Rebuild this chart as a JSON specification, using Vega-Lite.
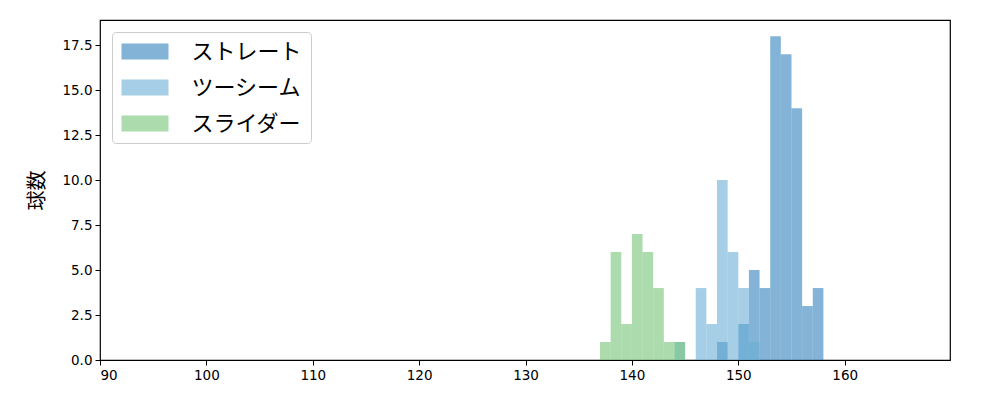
{
  "$schema": "https://vega.github.io/schema/vega-lite/v6.json",
  "width": 850,
  "height": 340,
  "autosize": {"type": "none"},
  "padding": {"left": 100, "top": 20, "right": 50, "bottom": 40},
  "background": "white",
  "config": {
    "view": {"stroke": "black", "strokeWidth": 1.2},
    "font": "DejaVu Sans"
  },
  "data": {
    "values": [
      {"球種": "ストレート", "lo": 148, "hi": 149, "count": 1},
      {"球種": "ストレート", "lo": 150, "hi": 151, "count": 2},
      {"球種": "ストレート", "lo": 151, "hi": 152, "count": 5},
      {"球種": "ストレート", "lo": 152, "hi": 153, "count": 4},
      {"球種": "ストレート", "lo": 153, "hi": 154, "count": 18},
      {"球種": "ストレート", "lo": 154, "hi": 155, "count": 17},
      {"球種": "ストレート", "lo": 155, "hi": 156, "count": 14},
      {"球種": "ストレート", "lo": 156, "hi": 157, "count": 3},
      {"球種": "ストレート", "lo": 157, "hi": 158, "count": 4},
      {"球種": "ツーシーム", "lo": 144, "hi": 145, "count": 1},
      {"球種": "ツーシーム", "lo": 146, "hi": 147, "count": 4},
      {"球種": "ツーシーム", "lo": 147, "hi": 148, "count": 2},
      {"球種": "ツーシーム", "lo": 148, "hi": 149, "count": 10},
      {"球種": "ツーシーム", "lo": 149, "hi": 150, "count": 6},
      {"球種": "ツーシーム", "lo": 150, "hi": 151, "count": 4},
      {"球種": "ツーシーム", "lo": 151, "hi": 152, "count": 1},
      {"球種": "スライダー", "lo": 137, "hi": 138, "count": 1},
      {"球種": "スライダー", "lo": 138, "hi": 139, "count": 6},
      {"球種": "スライダー", "lo": 139, "hi": 140, "count": 2},
      {"球種": "スライダー", "lo": 140, "hi": 141, "count": 7},
      {"球種": "スライダー", "lo": 141, "hi": 142, "count": 6},
      {"球種": "スライダー", "lo": 142, "hi": 143, "count": 4},
      {"球種": "スライダー", "lo": 143, "hi": 144, "count": 1},
      {"球種": "スライダー", "lo": 144, "hi": 145, "count": 1}
    ]
  },
  "mark": {"type": "bar", "opacity": 0.6, "cornerRadius": 0},
  "encoding": {
    "x": {
      "field": "lo",
      "type": "quantitative",
      "scale": {"domain": [90, 169.9], "nice": false, "zero": false},
      "axis": {
        "title": null,
        "values": [90, 100, 110, 120, 130, 140, 150, 160],
        "grid": false,
        "domain": false,
        "tickColor": "black",
        "tickSize": 5,
        "labelFontSize": 13.5,
        "labelColor": "black",
        "labelPadding": 3
      }
    },
    "x2": {"field": "hi"},
    "y": {
      "field": "count",
      "type": "quantitative",
      "stack": null,
      "scale": {"domain": [0, 18.9], "nice": false},
      "axis": {
        "title": "球数",
        "titleFont": "Noto Sans CJK JP",
        "titleFontSize": 20,
        "titleFontWeight": "normal",
        "titleColor": "black",
        "titlePadding": 14,
        "values": [0, 2.5, 5, 7.5, 10, 12.5, 15, 17.5],
        "format": ".1f",
        "grid": false,
        "domain": false,
        "tickColor": "black",
        "tickSize": 5,
        "labelFontSize": 13.5,
        "labelColor": "black",
        "labelPadding": 3
      }
    },
    "y2": {"datum": 0},
    "color": {
      "field": "球種",
      "type": "nominal",
      "sort": ["ストレート", "ツーシーム", "スライダー"],
      "scale": {
        "domain": ["ストレート", "ツーシーム", "スライダー"],
        "range": ["#3182bd", "#6baed6", "#74c476"]
      },
      "legend": {
        "title": null,
        "orient": "none",
        "legendX": 12,
        "legendY": 12,
        "fillColor": "white",
        "strokeColor": "#cccccc",
        "cornerRadius": 4,
        "padding": 8.5,
        "rowPadding": 14,
        "symbolType": "M-1,-0.8H3.7V0.8H-1Z",
        "symbolSize": 400,
        "symbolOpacity": 0.6,
        "symbolStrokeWidth": 0,
        "labelOffset": 49,
        "labelFont": "Noto Sans CJK JP",
        "labelFontSize": 22,
        "labelColor": "black",
        "labelLimit": 300
      }
    }
  }
}
